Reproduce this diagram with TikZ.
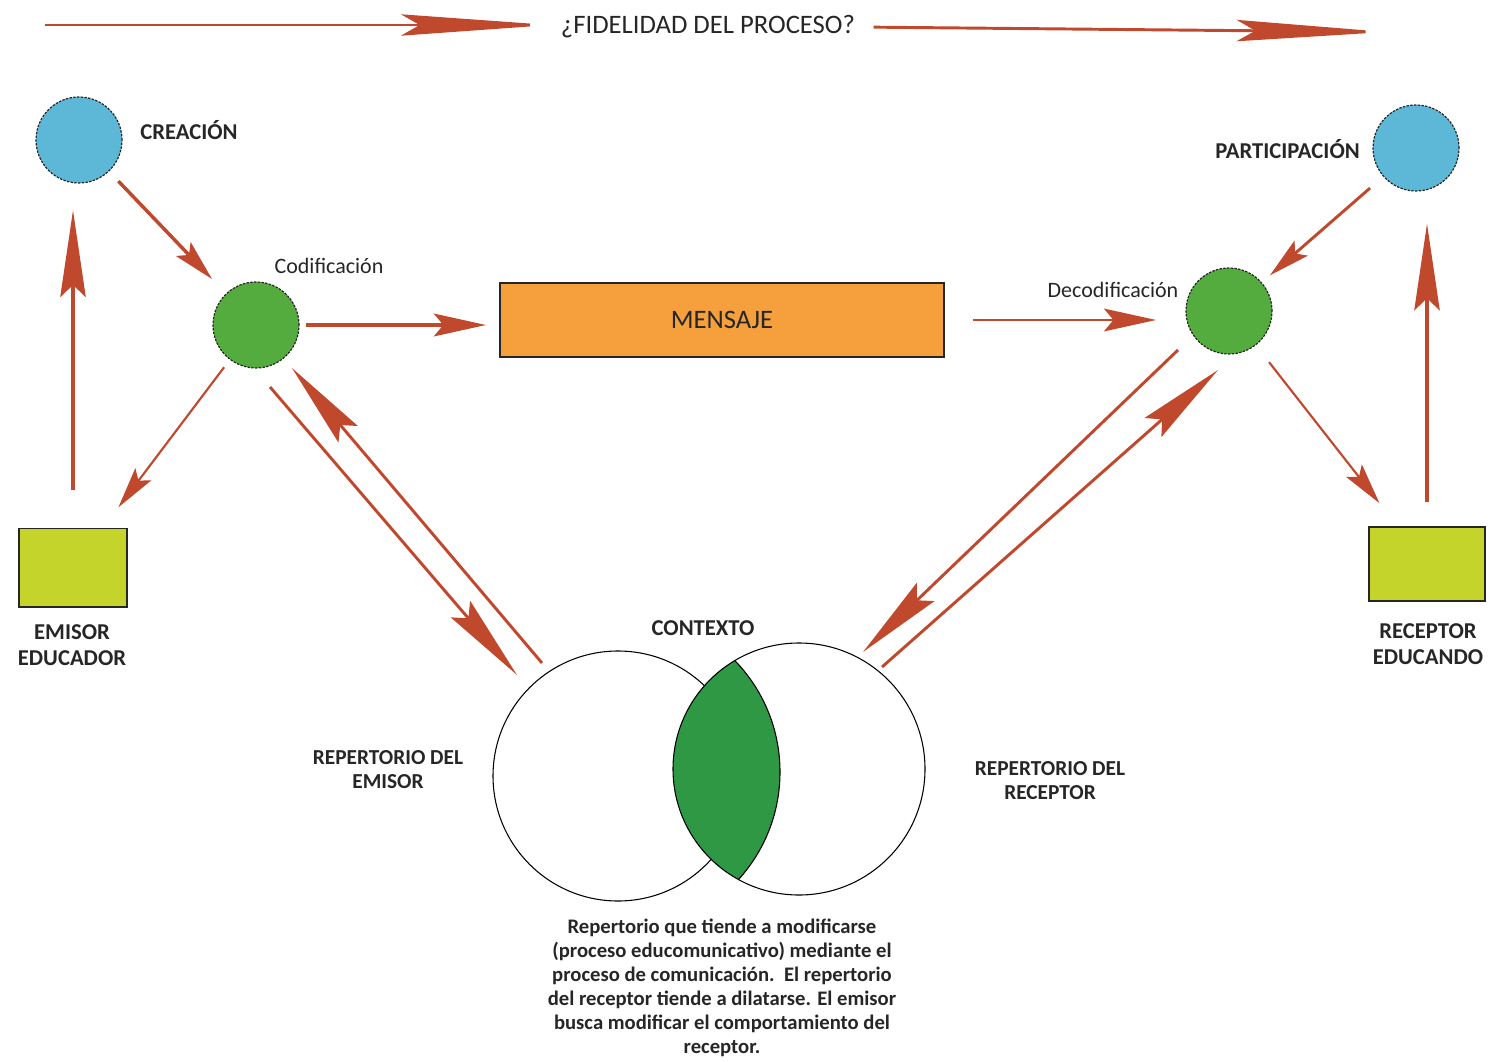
\documentclass[tikz,border=0pt]{standalone}
\usepackage{fontspec}
\setmainfont{Carlito}
\usetikzlibrary{arrows.meta}

\definecolor{rojoflecha}{RGB}{192,72,45}
\definecolor{azulcirc}{RGB}{92,184,214}
\definecolor{verdecirc}{RGB}{84,172,62}
\definecolor{verdelente}{RGB}{46,152,68}
\definecolor{naranja}{RGB}{245,160,60}
\definecolor{amarillo}{RGB}{196,212,43}

\begin{document}
\begin{tikzpicture}[x=0.75pt,y=0.75pt,yscale=-1,xscale=1,
	circulo/.style={circle,draw=black!85,line width=0.9pt,dash pattern=on 1.8pt off 1pt,minimum size=64.5pt,inner sep=0pt},
	caja/.style={draw=black!85,line width=1pt,inner sep=0pt},
	flecha/.style={draw=rojoflecha,line width=2.2pt},
	puntatope/.style={-{Stealth[length=112pt,width=16pt,inset=14pt]}},
	puntalarga/.style={-{Stealth[length=65pt,width=19pt,inset=9pt]}},
	puntamedia/.style={-{Stealth[length=39pt,width=17pt,inset=7pt]}},
	puntacorta/.style={-{Stealth[length=31pt,width=15pt,inset=6pt]}},
	titulo/.style={inner sep=0.75pt,text=black!85,font=\fontsize{20}{24}\selectfont},
	etiqueta/.style={inner sep=0.75pt,text=black!85,align=center,font=\fontsize{17}{19.5}\selectfont\bfseries},
	etiquetafina/.style={inner sep=0.75pt,text=black!85,font=\fontsize{16.5}{19.5}\selectfont}]
	\useasboundingbox (0,0) rectangle (1491,1062);
	
	%Shape: Circles [creacion, participacion]
	\node (creacion) [circulo,fill=azulcirc] at (79,140) {};
	\node (participacion) [circulo,fill=azulcirc] at (1416,148) {};
	%Shape: Circles [codificacion, decodificacion]
	\node (codif) [circulo,fill=verdecirc] at (256,325) {};
	\node (decodif) [circulo,fill=verdecirc] at (1229,311) {};
	%Shape: Rectangles
	\node (emisor) [caja,fill=amarillo,minimum width=81pt,minimum height=59pt] at (73,567.5) {};
	\node (receptor) [caja,fill=amarillo,minimum width=87pt,minimum height=55.5pt] at (1427,564) {};
	\node (mensaje) [caja,fill=naranja,minimum width=333pt,minimum height=55.5pt,text=black!85,font=\fontsize{20}{24}\selectfont] at (722,320) {MENSAJE};
	
	%Shape: Venn [contexto]
	\draw [line width=0.8pt] (618,776) circle [radius=93.75pt];
	\begin{scope}
		\clip (799,769) circle [radius=94.5pt];
		\draw [fill=verdelente,line width=0.8pt] (620,772) circle [radius=120pt];
	\end{scope}
	\draw [line width=0.8pt] (799,769) circle [radius=94.5pt];
	
	% Text Node
	\draw (708,27) node (fidelidad) [titulo] {¿FIDELIDAD DEL PROCESO?};
	% Text Node
	\draw (139,130) node (lblcreacion) [anchor=west][etiqueta] {CREACIÓN};
	% Text Node
	\draw (1361,149) node (lblparticipacion) [anchor=east][etiqueta] {PARTICIPACIÓN};
	% Text Node
	\draw (329,266) node (lblcodif) [etiquetafina] {Codificación};
	% Text Node
	\draw (1113,290) node (lbldecodif) [etiquetafina] {Decodificación};
	% Text Node
	\draw (72,645) node (lblemisor) [etiqueta] {EMISOR\\EDUCADOR};
	% Text Node
	\draw (1428,644) node (lblreceptor) [etiqueta] {RECEPTOR\\EDUCANDO};
	% Text Node
	\draw (703,628) node (lblcontexto) [etiqueta] {CONTEXTO};
	% Text Node
	\draw (388,770) node (repemisor) [etiqueta,font=\fontsize{16}{18}\selectfont\bfseries] {REPERTORIO DEL\\EMISOR};
	% Text Node
	\draw (1050,781) node (repreceptor) [etiqueta,font=\fontsize{16}{18}\selectfont\bfseries] {REPERTORIO DEL\\RECEPTOR};
	% Text Node
	\draw (722,918) node (nota) [anchor=north][etiqueta,font=\fontsize{15.5}{18}\selectfont\bfseries] {Repertorio que tiende a modificarse\\(proceso educomunicativo) mediante el\\proceso de comunicación.\ \ El repertorio\\del receptor tiende a dilatarse. El emisor\\busca modificar el comportamiento del\\receptor.};
	
	%Straight Lines [fidelidad]
	\coordinate (inicio) at (45,25);
	\coordinate (fin) at (1386,32);
	\draw [flecha,puntatope,shorten >=7pt] (inicio) -- (inicio -| fidelidad.west);
	\draw [flecha,puntatope,shorten <=13pt] (fidelidad.east) -- (fin);
	
	%Straight Lines [emisor side]
	\draw [flecha,line width=3pt,puntalarga,shorten <=28pt,shorten >=20pt] (emisor.north) -- (emisor.north |- creacion.south);
	\draw [flecha,line width=2.6pt,puntacorta,shorten <=10pt,shorten >=15pt] (creacion) -- (codif);
	\draw [flecha,line width=1.6pt,puntacorta,shorten <=7pt,shorten >=19pt] (codif) -- (emisor);
	\draw [flecha,line width=3pt,puntamedia,shorten <=5pt,shorten >=10pt] (codif.east) -- (codif.east -| mensaje.west);
	
	%Straight Lines [receptor side]
	\draw [flecha,puntamedia,shorten <=21pt,shorten >=22pt] (mensaje.east) -- (mensaje.east -| decodif.west);
	\draw [flecha,puntacorta,shorten <=13pt,shorten >=8pt] (participacion) -- (decodif);
	\draw [flecha,line width=1.6pt,puntacorta,shorten <=16pt,shorten >=22pt] (decodif) -- (receptor);
	\draw [flecha,line width=3pt,puntalarga,shorten <=18pt,shorten >=24pt] (receptor.north) -- (receptor.north |- participacion.south);
	
	%Straight Lines [repertorios]
	\coordinate (idaA) at (270,387);
	\coordinate (idaB) at (517,675);
	\coordinate (vueltaA) at (542,663);
	\coordinate (vueltaB) at (292,368);
	\coordinate (bajaA) at (1178,350);
	\coordinate (bajaB) at (863,652);
	\coordinate (subeA) at (882,667);
	\coordinate (subeB) at (1218,370);
	\draw [flecha,puntalarga] (idaA) -- (idaB);
	\draw [flecha,puntalarga] (vueltaA) -- (vueltaB);
	\draw [flecha,puntalarga] (bajaA) -- (bajaB);
	\draw [flecha,puntalarga] (subeA) -- (subeB);
	
\end{tikzpicture}
\end{document}
